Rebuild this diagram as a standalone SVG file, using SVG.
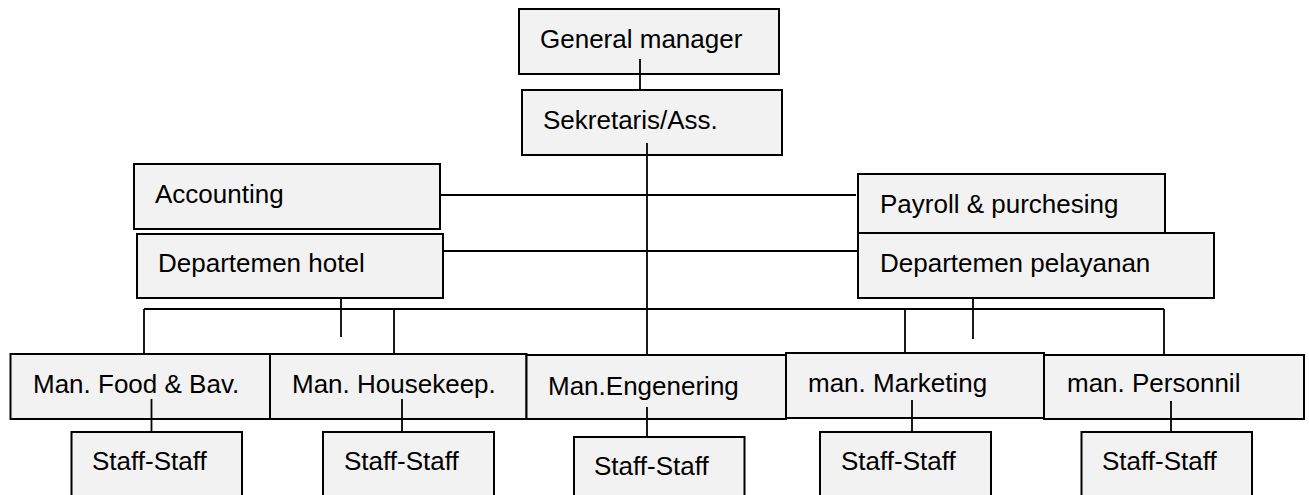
<svg xmlns="http://www.w3.org/2000/svg" width="1309" height="495" viewBox="0 0 1309 495">
<style>
.box{fill:#f2f2f2;stroke:#000;stroke-width:2}
.lbl{font-family:"Liberation Sans",Arial,sans-serif;font-size:26px;fill:#000}
.con{stroke:#000;stroke-width:1.8;fill:none}
</style>
<rect width="1309" height="495" fill="#fff"/>
<g id="general-manager"><rect class="box" x="519" y="9" width="260" height="65"/><text class="lbl" x="540" y="48">General manager</text></g>
<g id="sekretaris"><rect class="box" x="522" y="90" width="260" height="65"/><text class="lbl" x="543" y="129">Sekretaris/Ass.</text></g>
<g id="accounting"><rect class="box" x="134" y="164" width="306" height="65"/><text class="lbl" x="155" y="203">Accounting</text></g>
<g id="dept-hotel"><rect class="box" x="137" y="234" width="306" height="64"/><text class="lbl" x="158" y="272">Departemen hotel</text></g>
<g id="payroll"><rect class="box" x="858" y="174" width="307" height="59"/><text class="lbl" x="880" y="213">Payroll &amp; purchesing</text></g>
<g id="dept-pelayanan"><rect class="box" x="858" y="233" width="356" height="65"/><text class="lbl" x="880" y="272">Departemen pelayanan</text></g>
<g id="man-food"><rect class="box" x="10.5" y="354" width="259.5" height="65"/><text class="lbl" x="33" y="393">Man. Food &amp; Bav.</text></g>
<g id="man-housekeep"><rect class="box" x="270" y="354" width="256.5" height="65"/><text class="lbl" x="292" y="393">Man. Housekeep.</text></g>
<g id="man-engenering"><rect class="box" x="526.5" y="355" width="259.5" height="64"/><text class="lbl" x="548" y="395">Man.Engenering</text></g>
<g id="man-marketing"><rect class="box" x="786" y="353" width="258" height="65"/><text class="lbl" x="808" y="392">man. Marketing</text></g>
<g id="man-personnil"><rect class="box" x="1044" y="355" width="260" height="64"/><text class="lbl" x="1067" y="392">man. Personnil</text></g>
<g id="staff-food"><rect class="box" x="71.5" y="432" width="170.5" height="70"/><text class="lbl" x="92" y="470">Staff-Staff</text></g>
<g id="staff-housekeep"><rect class="box" x="323" y="432" width="171" height="70"/><text class="lbl" x="344" y="470">Staff-Staff</text></g>
<g id="staff-engenering"><rect class="box" x="574" y="437" width="170.5" height="65"/><text class="lbl" x="594" y="475">Staff-Staff</text></g>
<g id="staff-marketing"><rect class="box" x="820" y="432" width="171" height="70"/><text class="lbl" x="841" y="470">Staff-Staff</text></g>
<g id="staff-personnil"><rect class="box" x="1081.5" y="432" width="170.5" height="70"/><text class="lbl" x="1102" y="470">Staff-Staff</text></g>
<g id="connectors">
<path class="con" d="M640 59V90"/>
<path class="con" d="M647 143V355"/>
<path class="con" d="M440 195H856"/>
<path class="con" d="M443 251H858"/>
<path class="con" d="M341 298V337"/>
<path class="con" d="M973 298V339"/>
<path class="con" d="M144 309H1164"/>
<path class="con" d="M144 309V354"/>
<path class="con" d="M394 309V354"/>
<path class="con" d="M905 309V353"/>
<path class="con" d="M1164 309V355"/>
<path class="con" d="M151.5 399V432"/>
<path class="con" d="M402 399V432"/>
<path class="con" d="M647 407V437"/>
<path class="con" d="M912 400V432"/>
<path class="con" d="M1171 401V432"/>
</g>
</svg>
